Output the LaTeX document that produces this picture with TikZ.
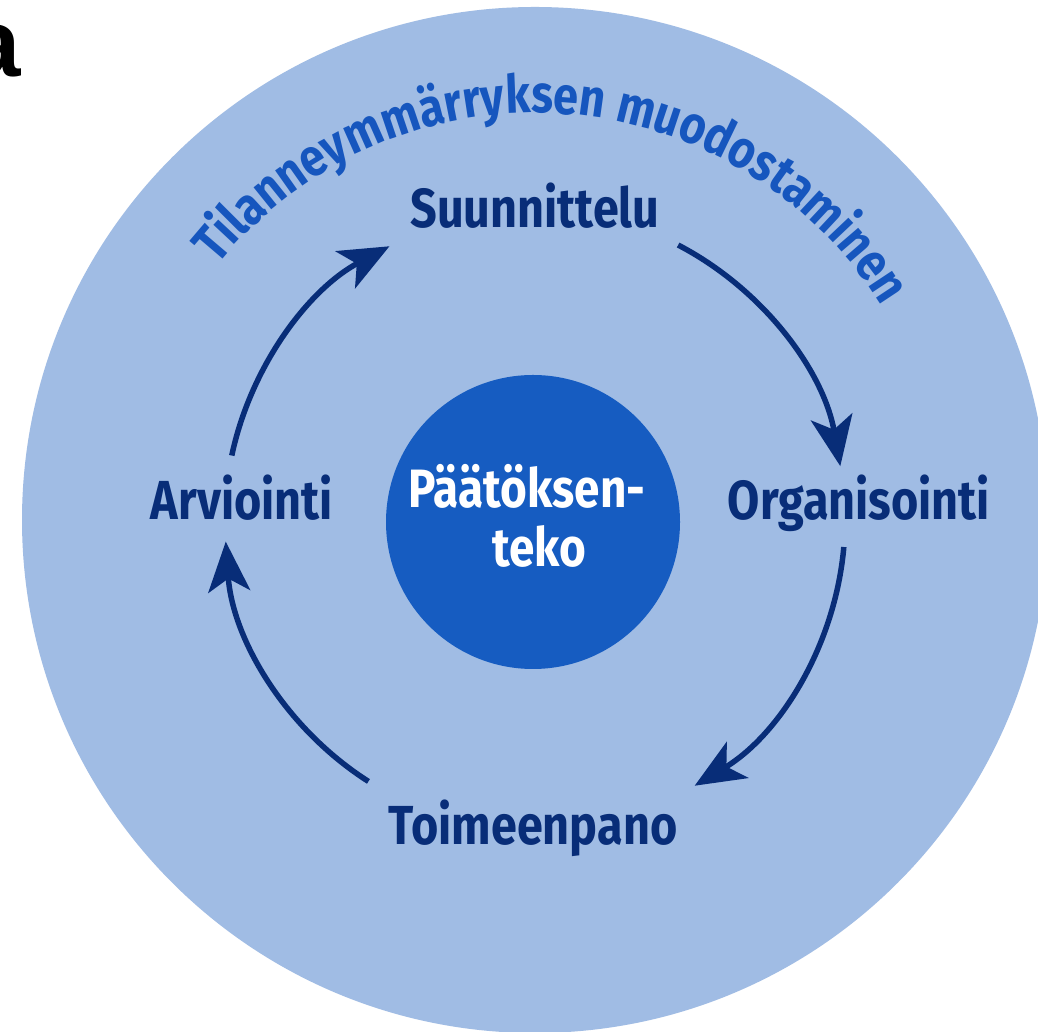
\documentclass[tikz,border=0pt]{standalone}
\usepackage{fontspec}
\setmainfont{Fira Sans}[FakeStretch=0.85]
\newfontfamily\arialfam{Liberation Sans}
\usetikzlibrary{arrows.meta,decorations.text,calc}
\definecolor{outerblue}{RGB}{160,188,228}
\definecolor{coreblue}{RGB}{22,92,193}
\definecolor{arcblue}{RGB}{22,86,190}
\definecolor{navy}{RGB}{8,45,120}
\newcommand\arcfont{\bfseries\fontsize{53}{55}\selectfont}
\tikzset{
  steplabel/.style={text=navy, font=\bfseries\fontsize{55}{60}\selectfont, inner sep=0, anchor=base},
  coretext/.style={text=white, font=\bfseries\fontsize{54}{60}\selectfont, inner sep=0, anchor=base},
  cyc/.style={draw=navy, line width=5.5pt, -{Stealth[length=50pt,width=42pt,inset=13pt]}}
}
\begin{document}
\begin{tikzpicture}[x=1pt,y=1pt]
\useasboundingbox (0,0) rectangle (1038,1032);
\clip (0,0) rectangle (1038,1032);
\fill[white] (0,0) rectangle (1038,1032);
\coordinate (C) at (535,512);
\node[circle, fill=outerblue, minimum size=1026pt, inner sep=0] (outer) at (C) {};
\node[circle, fill=coreblue, minimum size=294pt, inner sep=0] (core) at (533,510) {};
\node[coretext] (p1) at (527,524) {Päätöksen-};
\node[coretext] (p2) at (539,465) {teko};
\node[steplabel] (plan) at (535,804) {Suunnittelu};
\node[steplabel] (org) at (859,512) {Organisointi};
\node[steplabel] (impl) at (533,187) {Toimeenpano};
\node[steplabel] (eval) at (242,512) {Arviointi};
\node[font=\arialfam\bfseries\fontsize{96}{96}\selectfont, anchor=base east, inner sep=0] (cut) at (21,955) {a};
\coordinate (a1s) at ($(C)+(168:310)$);
\coordinate (a2s) at ($(C)+(62.5:310)$);
\coordinate (a3s) at ($(C)+(-5:310)$);
\coordinate (a4s) at ($(C)+(-122.5:310)$);
\draw[cyc] (a1s) arc[start angle=168, end angle=118, radius=310];
\draw[cyc] (a2s) arc[start angle=62.5, end angle=10, radius=310];
\draw[cyc] (a3s) arc[start angle=-5, end angle=-59, radius=310];
\draw[cyc] (a4s) arc[start angle=-122.5, end angle=-176, radius=310];
\coordinate (t0) at ($(C)+(160.5:407)$);
\path[decorate, decoration={text along path, text align=center, text color=arcblue,
  text={|\arcfont|Tilanneymmärryksen muodostaminen}}]
  (t0) arc[start angle=160.5, end angle=12.5, radius=407];
\end{tikzpicture}
\end{document}
